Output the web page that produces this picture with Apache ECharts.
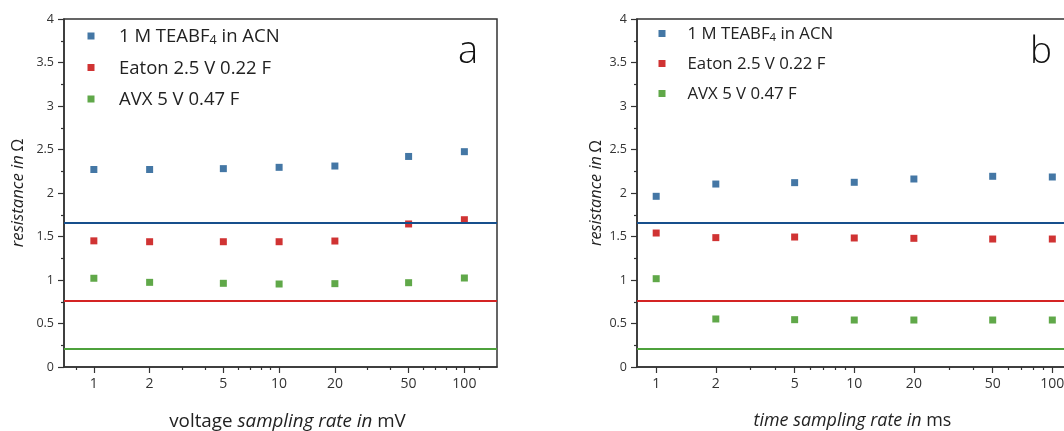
<!DOCTYPE html>
<html>
<head>
<meta charset="utf-8">
<script src="https://cdn.jsdelivr.net/npm/echarts@6/dist/echarts.min.js"></script>
<style>html,body{margin:0;padding:0;background:#fff}#c{width:1064px;height:431px}</style>
</head>
<body>
<div id="c"></div>
<script>
const seriesNames = ['1 M TEABF4 in ACN', 'Eaton 2.5 V 0.22 F', 'AVX 5 V 0.47 F'];
const rates = [1, 2, 5, 10, 20, 50, 100];
const xTickLabels = [1, 2, 5, 10, 20, 50, 100];
const xMinorLeft = [0.8, 3, 4, 6, 7, 8, 9, 30, 40, 60, 70, 80, 90, 120];
const xMinorRight = [3, 4, 6, 7, 8, 9, 30, 40, 60, 70, 80, 90];
const leftTEABF = [2.27, 2.27, 2.28, 2.295, 2.31, 2.42, 2.475];
const leftEaton = [1.45, 1.44, 1.44, 1.44, 1.448, 1.644, 1.693];
const leftAVX = [1.02, 0.973, 0.962, 0.954, 0.958, 0.969, 1.023];
const rightTEABF = [1.962, 2.103, 2.119, 2.123, 2.161, 2.192, 2.184];
const rightEaton = [1.54, 1.487, 1.494, 1.483, 1.479, 1.471, 1.471];
const rightAVX = [1.015, 0.552, 0.544, 0.54, 0.54, 0.54, 0.54];
const refLeft = [1.66, 0.76, 0.21];
const refRight = [1.66, 0.76, 0.21];

const markerColors = ['#15558f', '#c40000', '#38921c'];
const lineColors = ['#174f8c', '#d42424', '#4ea13c'];
const FONT = 'Open Sans';
const AX = '#333';

const zip = (xs, ys) => xs.map((x, i) => [x, ys[i]]);

function xMajor(grid, min, max) {
  return {
    type: 'log', gridIndex: grid, min: min, max: max, position: 'bottom',
    axisLine: { show: true, onZero: false, lineStyle: { color: AX, width: 1.5 } },
    axisTick: { show: true, length: 6, lineStyle: { color: AX, width: 1.2 }, customValues: xTickLabels },
    axisLabel: { show: true, customValues: xTickLabels, margin: 10, color: '#333', fontFamily: FONT, fontSize: 14 },
    splitLine: { show: false }, minorTick: { show: false }, minorSplitLine: { show: false }
  };
}
function xMinor(grid, min, max, vals) {
  return {
    type: 'log', gridIndex: grid, min: min, max: max, position: 'top', offset: -348,
    axisLine: { show: false, onZero: false },
    axisTick: { show: true, inside: true, length: 3, lineStyle: { color: AX, width: 1.2 }, customValues: vals },
    axisLabel: { show: false },
    splitLine: { show: false }
  };
}
function yAx(grid, gap, nameSize) {
  return {
    type: 'value', gridIndex: grid, min: 0, max: 4, interval: 0.5,
    name: '{i|resistance in} {n|Ω}', nameLocation: 'middle', nameGap: gap,
    nameTextStyle: { rich: {
      i: { fontFamily: FONT, fontStyle: 'italic', fontSize: nameSize, color: '#222' },
      n: { fontFamily: FONT, fontSize: nameSize, color: '#222' } } },
    axisLine: { show: true, onZero: false, lineStyle: { color: AX, width: 1.5 } },
    axisTick: { show: true, length: 6, lineStyle: { color: AX, width: 1.2 } },
    minorTick: { show: true, splitNumber: 2, length: 3, lineStyle: { color: AX, width: 1.2 } },
    axisLabel: { margin: 10, color: '#333', fontFamily: FONT, fontSize: 12.5 },
    splitLine: { show: false }
  };
}
function scat(name, xi, yi, data, k, ref) {
  return {
    type: 'scatter', name: name, xAxisIndex: xi, yAxisIndex: yi, data: data,
    symbol: 'rect', symbolSize: 7, itemStyle: { color: markerColors[k] },
    markLine: { silent: true, symbol: 'none', label: { show: false },
      lineStyle: { color: lineColors[k], width: 2, type: 'solid' },
      emphasis: { disabled: true },
      data: [{ yAxis: ref[k] }] }
  };
}
function legendFmt(name) {
  if (name.indexOf('TEABF4') >= 0) return '{g| }{t|1 M TEABF}{s|4}{t| in ACN}';
  return '{g| }{t|' + name + '}';
}
function legend(left, top, gapW, fs, lh, gap) {
  return {
    left: left, top: top, orient: 'vertical', padding: 0, itemGap: gap,
    itemWidth: 7, itemHeight: 7, icon: 'rect',
    data: seriesNames, formatter: legendFmt, selectedMode: false,
    textStyle: { rich: {
      g: { width: gapW, fontSize: fs, lineHeight: lh },
      t: { fontFamily: FONT, fontSize: fs, lineHeight: lh, color: '#222', verticalAlign: 'bottom' },
      s: { fontFamily: FONT, fontSize: fs * 0.68, color: '#222', verticalAlign: 'bottom' } } }
  };
}

const chart = echarts.init(document.getElementById('c'), null, { renderer: 'canvas' });
chart.setOption({
  animation: false,
  backgroundColor: '#fff',
  grid: [
    { left: 64, top: 19, width: 433, height: 348, outerBoundsMode: 'none', containLabel: false, show: true, borderColor: AX, borderWidth: 1.5, backgroundColor: 'transparent' },
    { left: 637, top: 19, width: 431, height: 348, outerBoundsMode: 'none', containLabel: false, show: true, borderColor: AX, borderWidth: 1.5, backgroundColor: 'transparent' }
  ],
  xAxis: [
    Object.assign(xMajor(0, 0.69, 150), {
      name: '{n|voltage }{i|sampling rate in}{n| mV}', nameLocation: 'middle', nameGap: 45,
      nameTextStyle: { padding: [0, 0, 0, 14], rich: {
        n: { fontFamily: FONT, fontSize: 18.8, color: '#222' },
        i: { fontFamily: FONT, fontSize: 18.8, fontStyle: 'italic', color: '#222' } } }
    }),
    xMinor(0, 0.69, 150, xMinorLeft),
    Object.assign(xMajor(1, 0.8, 120), {
      name: '{i|time sampling rate in}{n| ms}', nameLocation: 'middle', nameGap: 45,
      nameTextStyle: { rich: {
        n: { fontFamily: FONT, fontSize: 17.9, color: '#222' },
        i: { fontFamily: FONT, fontSize: 17.9, fontStyle: 'italic', color: '#222' } } }
    }),
    xMinor(1, 0.8, 120, xMinorRight)
  ],
  yAxis: [yAx(0, 37, 16.7), yAx(1, 33, 16.3)],
  legend: [legend(87.5, 26.5, 19.5, 18.5, 21, 11.5), legend(658.5, 25, 17, 16.8, 19, 12)],
  graphic: [
    { type: 'text', x: 468, y: 52, style: { text: 'a', fontFamily: FONT, fontSize: 38, fontWeight: 300, fill: '#111', align: 'center', verticalAlign: 'middle' } },
    { type: 'text', x: 1041, y: 52, style: { text: 'b', fontFamily: FONT, fontSize: 37, fontWeight: 300, fill: '#111', align: 'center', verticalAlign: 'middle' } }
  ],
  series: [
    scat(seriesNames[0], 0, 0, zip(rates, leftTEABF), 0, refLeft),
    scat(seriesNames[1], 0, 0, zip(rates, leftEaton), 1, refLeft),
    scat(seriesNames[2], 0, 0, zip(rates, leftAVX), 2, refLeft),
    scat(seriesNames[0], 2, 1, zip(rates, rightTEABF), 0, refRight),
    scat(seriesNames[1], 2, 1, zip(rates, rightEaton), 1, refRight),
    scat(seriesNames[2], 2, 1, zip(rates, rightAVX), 2, refRight)
  ]
});
</script>
</body>
</html>
